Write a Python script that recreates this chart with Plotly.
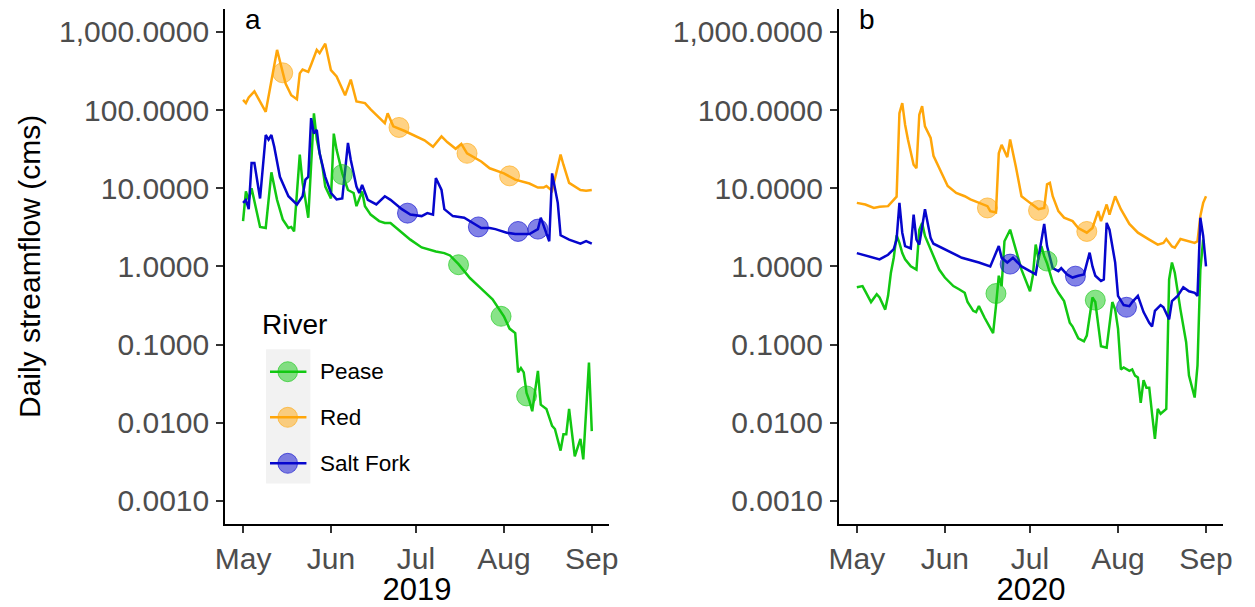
import pandas as pd
import plotly.graph_objects as go

# ---------------------------------------------------------------------------
# Daily streamflow (cms), days counted from 1 May of each season
# ---------------------------------------------------------------------------
RIVERS = ["Pease", "Red", "Salt Fork"]
YEARS = [2019, 2020]
MONTH_LABELS = ["May", "Jun", "Jul", "Aug", "Sep"]
Y_TICK_VALUES = [0.001, 0.01, 0.1, 1, 10, 100, 1000]
Y_TICK_LABELS = ["0.0010", "0.0100", "0.1000", "1.0000", "10.0000", "100.0000", "1,000.0000"]
PANEL_TAGS = ["a", "b"]

# ---- 2019 ----
pease_2019_day = [0, 1, 2, 3, 6, 8, 10, 12, 14, 16, 17, 18, 20, 21, 22, 23, 25, 26, 28, 29,
                  31, 32, 33, 35, 37, 39, 40, 42, 43, 45, 48, 50, 52, 55, 59, 63, 68, 71, 73, 76,
                  80, 84, 88, 92, 94, 96, 97, 98, 99, 100, 101, 102, 104, 105, 107, 109, 110, 112, 113, 114,
                  115, 117, 119, 120, 122, 123]
pease_2019_cms = [3.8, 9.1, 7.1, 10, 3.2, 3.1, 16, 7.1, 4.0, 3.1, 3.2, 2.8, 27, 11.7, 7.1, 4.2, 91, 42, 19, 10.5,
                  7.4, 50, 31, 15.5, 9.5, 8.7, 5.9, 9.1, 5.9, 4.6, 3.8, 3.6, 3.6, 2.95, 2.2, 1.75, 1.55, 1.48, 1.38, 1.07,
                  0.71, 0.52, 0.38, 0.23, 0.16, 0.14, 0.044, 0.050, 0.044, 0.024, 0.019, 0.014, 0.046, 0.017, 0.015,
                  0.0091, 0.0083, 0.0044, 0.0071, 0.0071, 0.015, 0.0037, 0.0062, 0.0034, 0.059, 0.0078]

red_2019_day = [0, 1, 2, 4, 8, 12, 15, 17, 19, 20, 21, 23, 24, 26, 27, 29, 31, 33, 36, 38,
                40, 43, 45, 50, 51, 53, 57, 60, 64, 67, 70, 72, 75, 77, 79, 84, 87, 92, 96, 101,
                104, 106, 107, 109, 112, 113, 115, 119, 121, 123]
red_2019_cms = [135, 123, 145, 174, 95, 589, 219, 155, 138, 295, 331, 309, 380, 589, 537, 708, 324, 269, 155, 245,
                129, 123, 102, 68, 91, 62, 54, 48, 41, 34, 46, 39, 32, 37, 28, 22, 18, 15.5, 12.9, 11.5,
                10.2, 10.2, 10.7, 9.3, 27, 20, 11.7, 9.5, 9.3, 9.5]

saltfork_2019_day = [0, 1, 2, 3, 4, 6, 8, 9, 10, 11, 13, 16, 19, 21, 22, 23, 24, 25, 26, 27,
                     29, 31, 33, 35, 37, 38, 40, 41, 42, 44, 47, 50, 52, 56, 59, 63, 65, 67, 68, 70,
                     71, 74, 78, 80, 84, 87, 89, 93, 96, 101, 104, 105, 107, 108, 109, 111, 112, 115, 119, 121,
                     123]
saltfork_2019_cms = [6.5, 7.1, 5.4, 21, 21, 7.4, 48, 42, 48, 34, 14, 7.9, 6.2, 7.9, 12.9, 14, 79, 50, 56, 28,
                     14, 8.7, 7.2, 7.4, 38, 23, 10.5, 8.7, 11, 7.1, 6.2, 7.9, 7.1, 5.4, 4.6, 4.4, 4.8, 4.6, 13.5, 9.5,
                     5.4, 4.4, 4.2, 3.8, 3.1, 3.1, 3.0, 2.7, 2.6, 2.6, 3.0, 4.2, 2.7, 2.1, 15.5, 6.5, 2.5, 2.2, 1.95, 2.1,
                     1.95]

# ---- 2020 ----
pease_2020_day = [0, 2, 3, 5, 7, 8, 10, 11, 12, 13, 14, 15, 16, 17, 19, 21, 22, 23, 24, 27,
                  29, 31, 34, 36, 38, 39, 41, 42, 43, 45, 46, 48, 49, 50, 51, 52, 54, 56, 58, 61,
                  62, 63, 64, 65, 66, 67, 69, 71, 73, 75, 76, 78, 80, 81, 83, 84, 85, 86, 88, 89,
                  90, 91, 92, 93, 94, 96, 97, 98, 99, 100, 101, 102, 103, 104, 105, 106, 107, 109, 110, 111,
                  112, 114, 116, 117, 119, 120, 121, 122]
pease_2020_cms = [0.54, 0.56, 0.48, 0.35, 0.44, 0.40, 0.28, 0.42, 0.83, 1.29, 2.5, 2.0, 1.48, 1.23, 1.0, 0.91,
                  2.95, 3.6, 2.45, 1.35, 0.91, 0.72, 0.56, 0.51, 0.46, 0.35, 0.27, 0.26, 0.31, 0.22, 0.19, 0.14,
                  0.31, 0.76, 0.56, 2.1, 2.95, 1.66, 0.91, 0.48, 0.76, 1.9, 1.23, 1.82, 1.35, 1.1, 0.62, 0.46,
                  0.36, 0.19, 0.17, 0.12, 0.11, 0.13, 0.40, 0.35, 0.18, 0.095, 0.091, 0.17, 0.35, 0.28, 0.16,
                  0.048, 0.051, 0.046, 0.048, 0.040, 0.038, 0.018, 0.035, 0.028, 0.028, 0.013, 0.0062, 0.015,
                  0.013, 0.015, 0.68, 1.12, 0.83, 0.28, 0.107, 0.040, 0.021, 0.054, 0.9, 2.2]

red_2020_day = [0, 3, 6, 8, 11, 12, 14, 15, 16, 17, 18, 20, 21, 22, 23, 24, 26, 27, 30, 32,
                35, 38, 40, 43, 46, 47, 49, 50, 51, 53, 54, 56, 57, 58, 61, 64, 66, 67, 68, 69,
                71, 73, 76, 78, 81, 83, 85, 86, 88, 89, 91, 93, 96, 99, 103, 106, 108, 109, 111, 112,
                114, 117, 119, 120, 121, 122, 123]
red_2020_cms = [6.5, 6.2, 5.6, 5.8, 5.9, 6.5, 7.8, 91, 123, 65, 42, 20, 18, 87, 112, 62, 44, 26, 14.8, 10.7,
                8.7, 7.9, 7.2, 6.5, 5.9, 5.1, 4.9, 28, 36, 25, 42, 19, 12.9, 7.9, 6.5, 5.4, 5.6, 11.2, 11.7, 7.9,
                5.1, 4.2, 3.8, 3.1, 2.7, 3.1, 5.1, 3.8, 6.2, 4.6, 7.9, 5.4, 3.5, 2.7, 2.2, 1.9, 2.0, 2.24, 1.8, 1.74,
                2.24, 2.1, 2.0, 2.1, 4.4, 6.5, 7.9]

saltfork_2020_day = [0, 4, 8, 11, 13, 14, 15, 16, 17, 19, 20, 21, 22, 24, 26, 27, 31, 37, 43, 47,
                     50, 51, 53, 55, 58, 61, 63, 64, 66, 67, 69, 71, 72, 74, 76, 78, 80, 82, 83, 84,
                     86, 87, 88, 89, 91, 92, 94, 96, 97, 99, 101, 103, 104, 105, 107, 108, 110, 111, 113, 115,
                     117, 119, 120, 121, 122, 123]
saltfork_2020_cms = [1.48, 1.35, 1.23, 1.41, 1.66, 2.2, 6.5, 2.7, 1.82, 1.7, 4.6, 2.2, 1.9, 5.4, 2.3, 1.95,
                     1.66, 1.29, 1.12, 1.0, 1.82, 1.29, 1.12, 1.29, 1.0, 0.87, 0.79, 1.3, 3.5, 1.82, 0.95, 0.87,
                     0.95, 0.79, 0.72, 0.76, 0.79, 1.5, 1.0, 0.76, 0.65, 0.68, 3.6, 2.95, 1.12, 0.42, 0.32, 0.31,
                     0.35, 0.42, 0.26, 0.19, 0.17, 0.27, 0.32, 0.30, 0.21, 0.36, 0.42, 0.54, 0.48, 0.46, 0.42,
                     4.2, 2.45, 1.0]

# ---- sampling dates (day from 1 May) and flow on those days ----
pease_2019_sample_day = [35, 76, 91, 100]
pease_2019_sample_cms = [15, 1.05, 0.23, 0.022]
red_2019_sample_day = [14, 55, 79, 94]
red_2019_sample_cms = [300, 60, 28, 14.4]
saltfork_2019_sample_day = [58, 83, 97, 104]
saltfork_2019_sample_cms = [4.8, 3.2, 2.8, 3.0]

pease_2020_sample_day = [49, 67, 84]
pease_2020_sample_cms = [0.45, 1.17, 0.37]
red_2020_sample_day = [46, 64, 81]
red_2020_sample_cms = [5.6, 5.2, 2.8]
saltfork_2020_sample_day = [54, 77, 95]
saltfork_2020_sample_cms = [1.07, 0.75, 0.30]

FLOW = {
    (2019, "Pease"): (pease_2019_day, pease_2019_cms),
    (2019, "Red"): (red_2019_day, red_2019_cms),
    (2019, "Salt Fork"): (saltfork_2019_day, saltfork_2019_cms),
    (2020, "Pease"): (pease_2020_day, pease_2020_cms),
    (2020, "Red"): (red_2020_day, red_2020_cms),
    (2020, "Salt Fork"): (saltfork_2020_day, saltfork_2020_cms),
}
SAMPLES = {
    (2019, "Pease"): (pease_2019_sample_day, pease_2019_sample_cms),
    (2019, "Red"): (red_2019_sample_day, red_2019_sample_cms),
    (2019, "Salt Fork"): (saltfork_2019_sample_day, saltfork_2019_sample_cms),
    (2020, "Pease"): (pease_2020_sample_day, pease_2020_sample_cms),
    (2020, "Red"): (red_2020_sample_day, red_2020_sample_cms),
    (2020, "Salt Fork"): (saltfork_2020_sample_day, saltfork_2020_sample_cms),
}

# ---------------------------------------------------------------------------
# Styling
# ---------------------------------------------------------------------------
W, H = 1255, 607
FONT = "Liberation Sans, Arial, sans-serif"
LINE_COLOR = {"Pease": "#12C812", "Red": "#FFA60A", "Salt Fork": "#0606CD"}
FILL_COLOR = {"Pease": "rgba(18,200,18,0.5)", "Red": "rgba(255,166,10,0.5)",
              "Salt Fork": "rgba(6,6,205,0.5)"}
EDGE_COLOR = {"Pease": "rgba(18,200,18,0.6)", "Red": "rgba(255,166,10,0.6)",
              "Salt Fork": "rgba(6,6,205,0.6)"}
TICK_GREY = "#4D4D4D"
LINE_W = 2.5

# panel boxes in pixels (left, right) and common vertical extent (top, bottom)
PANEL_X = [(218.5, 608.0), (841.7, 1231.7)]
PANEL_TOP, PANEL_BOTTOM = 8.5, 524.3
DAY_PAD_LEFT, DAY_PAD_RIGHT = 6.3, 129.0


def px_x(p):
    return p / W


def px_y(p):
    return 1 - p / H


def dates(year, days):
    return pd.Timestamp(f"{year}-05-01") + pd.to_timedelta(days, unit="D")


fig = go.Figure()

for i, year in enumerate(YEARS):
    xa = "x" if i == 0 else "x2"
    ya = "y" if i == 0 else "y2"
    for river in RIVERS:
        d, q = FLOW[(year, river)]
        fig.add_trace(go.Scatter(
            x=dates(year, d), y=q, mode="lines", name=river,
            line=dict(color=LINE_COLOR[river], width=LINE_W),
            xaxis=xa, yaxis=ya, showlegend=False, hoverinfo="x+y+name"))
    for river in RIVERS:
        d, q = SAMPLES[(year, river)]
        fig.add_trace(go.Scatter(
            x=dates(year, d), y=q, mode="markers", name=river,
            marker=dict(size=20, color=FILL_COLOR[river],
                        line=dict(color=EDGE_COLOR[river], width=1)),
            xaxis=xa, yaxis=ya, showlegend=False, hoverinfo="x+y+name"))

layout_axes = {}
for i, year in enumerate(YEARS):
    sfx = "" if i == 0 else "2"
    left, right = PANEL_X[i]
    start = pd.Timestamp(f"{year}-05-01")
    month_ticks = [pd.Timestamp(f"{year}-{m:02d}-01") for m in range(5, 10)]
    layout_axes["xaxis" + sfx] = dict(
        domain=[px_x(left), px_x(right)],
        anchor="y" + sfx,
        type="date",
        range=[start - pd.Timedelta(days=DAY_PAD_LEFT), start + pd.Timedelta(days=DAY_PAD_RIGHT)],
        tickmode="array", tickvals=month_ticks, ticktext=MONTH_LABELS,
        showline=True, linecolor="black", linewidth=2,
        ticks="outside", ticklen=7, tickwidth=2, tickcolor="#333333",
        tickfont=dict(family=FONT, size=30, color=TICK_GREY),
        showgrid=False, zeroline=False,
        title=dict(text=str(year), font=dict(family=FONT, size=31, color="black"), standoff=5),
    )
    layout_axes["yaxis" + sfx] = dict(
        domain=[px_y(PANEL_BOTTOM), px_y(PANEL_TOP)],
        anchor="x" + sfx,
        type="log", range=[-3.3, 3.3],
        tickmode="array", tickvals=Y_TICK_VALUES, ticktext=Y_TICK_LABELS,
        showline=True, linecolor="black", linewidth=2,
        ticks="outside", ticklen=7, tickwidth=2, tickcolor="#333333",
        tickfont=dict(family=FONT, size=30, color=TICK_GREY),
        ticklabelstandoff=1,
        showgrid=False, zeroline=False,
        title=dict(text="Daily streamflow (cms)" if i == 0 else "",
                   font=dict(family=FONT, size=30, color="black"), standoff=10),
    )

# legend drawn by hand: title, grey key panel, line + circle keys, labels
shapes = [dict(type="rect", xref="paper", yref="paper",
               x0=px_x(260), x1=px_x(305), y0=px_y(483.5), y1=px_y(349.3),
               fillcolor="#F2F2F2", line=dict(width=0), layer="below")]
annotations = [dict(text="River", xref="paper", yref="paper", x=px_x(254), y=px_y(324),
                    xanchor="left", yanchor="middle", showarrow=False,
                    font=dict(family=FONT, size=28, color="black"))]
key_y = [371.7, 417.3, 463.3]
for river, ky in zip(RIVERS, key_y):
    shapes.append(dict(type="line", xref="paper", yref="paper",
                       x0=px_x(264), x1=px_x(301), y0=px_y(ky), y1=px_y(ky),
                       line=dict(color=LINE_COLOR[river], width=LINE_W)))
    shapes.append(dict(type="circle", xref="paper", yref="paper",
                       x0=px_x(272), x1=px_x(292), y0=px_y(ky + 10), y1=px_y(ky - 10),
                       fillcolor=FILL_COLOR[river], line=dict(color=EDGE_COLOR[river], width=1)))
    annotations.append(dict(text=river, xref="paper", yref="paper", x=px_x(313), y=px_y(ky),
                            xanchor="left", yanchor="middle", showarrow=False,
                            font=dict(family=FONT, size=22.5, color="black")))

# panel tags
for tag, (left, _) in zip(PANEL_TAGS, PANEL_X):
    annotations.append(dict(text=tag, xref="paper", yref="paper", x=px_x(left + 18), y=px_y(20),
                            xanchor="left", yanchor="middle", showarrow=False,
                            font=dict(family=FONT, size=28, color="black")))

fig.update_layout(
    width=W, height=H, autosize=False,
    margin=dict(l=0, r=0, t=0, b=0),
    paper_bgcolor="white", plot_bgcolor="white",
    showlegend=False,
    shapes=shapes, annotations=annotations,
    **layout_axes,
)

fig.write_html("out.html")
